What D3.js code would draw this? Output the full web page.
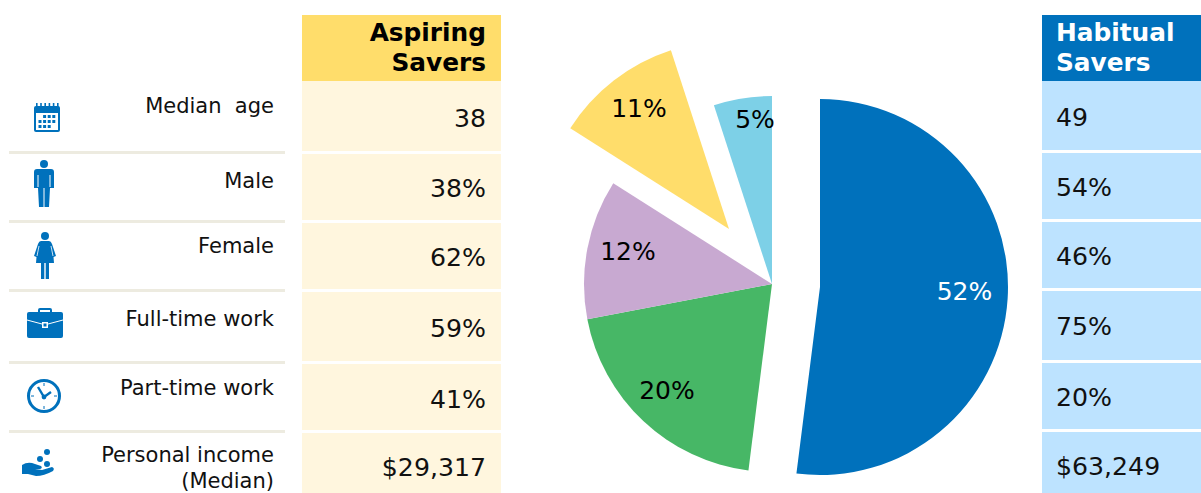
<!DOCTYPE html>
<html><head>
<meta charset="utf-8">
<title>Savers</title>
<script src="https://d3js.org/d3.v7.min.js"></script>
<style>
  html, body { margin: 0; padding: 0; background: #fff; overflow: hidden; }
  svg { display: block; }
  text { font-family: "DejaVu Sans", Verdana, sans-serif; white-space: pre; }
</style>
</head>
<body>
<svg id="chart" width="1201" height="493"></svg>
<script>
// Data
const rowLabels = ["Median  age", "Male", "Female", "Full-time work", "Part-time work", "Personal income\n(Median)"];
const aspiringValues = ["38", "38%", "62%", "59%", "41%", "$29,317"];
const habitualValues = ["49", "54%", "46%", "75%", "20%", "$63,249"];
const aspiringTitle = ["Aspiring", "Savers"];
const habitualTitle = ["Habitual", "Savers"];
const pieValues = [52, 20, 12, 11, 5];
const pieColors = ["#0071bc", "#47b766", "#c8a9d1", "#ffdd6b", "#7dd0e7"];

const svg = d3.select("svg#chart");
const ink = "#111";

// The rows are not quite even in the original, so they go through ordinal scales
const rowY = (values) => d3.scaleOrdinal().domain(rowLabels).range(values);

// Left labels
const labelArea = svg.append("g").attr("id", "labels");
const ruleY = rowY([null, 151, 220, 289, 361, 430]);
const labelY = rowY([113, 188, 253, 326, 395, 462]);
rowLabels.forEach((label, i) => {
  if (i > 0) {
    labelArea.append("rect")
      .attr("x", 9).attr("width", 276)
      .attr("y", ruleY(label)).attr("height", 3)
      .attr("fill", "#edebe0");
  }
  label.split("\n").forEach((line, j) => {
    labelArea.append("text")
      .attr("x", 274)
      .attr("y", labelY(label) + j * 25.5)
      .attr("text-anchor", "end")
      .attr("font-size", 21)
      .attr("fill", ink)
      .text(line);
  });
});

// Value columns
function drawColumn(c) {
  const g = svg.append("g");
  g.append("rect").attr("x", c.x).attr("y", 15).attr("width", c.width).attr("height", 66).attr("fill", c.head);
  c.title.forEach((t, i) => {
    g.append("text")
      .attr("x", c.textX).attr("y", 41 + i * 30)
      .attr("text-anchor", c.anchor)
      .attr("font-size", 24.8).attr("font-weight", "bold")
      .attr("fill", c.titleColor)
      .text(t);
  });
  const top = rowY(c.tops), bottom = rowY(c.bottoms), base = rowY(c.bases);
  rowLabels.forEach((label, i) => {
    g.append("rect")
      .attr("x", c.x).attr("y", top(label))
      .attr("width", c.width).attr("height", bottom(label) - top(label))
      .attr("fill", c.cell);
    g.append("text")
      .attr("x", c.textX).attr("y", base(label))
      .attr("text-anchor", c.anchor)
      .attr("font-size", 25.2)
      .attr("fill", ink)
      .text(c.values[i]);
  });
}
drawColumn({
  x: 302, width: 199, textX: 486, anchor: "end",
  title: aspiringTitle, values: aspiringValues,
  head: "#ffdd6b", cell: "#fff6de", titleColor: "#000",
  tops: [81, 154, 223, 292, 364, 433],
  bottoms: [151, 220, 289, 361, 430, 493],
  bases: [127, 197, 266, 337, 408, 476]
});
drawColumn({
  x: 1042, width: 159, textX: 1056, anchor: "start",
  title: habitualTitle, values: habitualValues,
  head: "#0071bc", cell: "#bde3ff", titleColor: "#fff",
  tops: [81, 153, 222, 291, 363, 432],
  bottoms: [150, 219, 288, 360, 429, 493],
  bases: [126, 196, 265, 335, 406, 475]
});

// Pie, drawn clockwise from 12 o'clock. Some slices are pulled out of the centre.
const pieCenter = [772, 284];
const pullOut = [[48, 3], [0, 0], [0, 0], [-43, -55], [0, 0]];
const labelPos = [[964.5, 300], [667, 399], [628, 260], [639, 117], [755, 128]];
const labelInk = ["#fff", "#000", "#000", "#000", "#000"];

const pie = d3.pie().sort(null)(pieValues);
const arc = d3.arc().innerRadius(0).outerRadius(188);

const pieArea = svg.append("g").attr("id", "pie");
pie.forEach((d, i) => {
  pieArea.append("path")
    .attr("transform", "translate(" + (pieCenter[0] + pullOut[i][0]) + "," + (pieCenter[1] + pullOut[i][1]) + ")")
    .attr("d", arc(d))
    .attr("fill", pieColors[i]);
});
pie.forEach((d, i) => {
  pieArea.append("text")
    .attr("x", labelPos[i][0]).attr("y", labelPos[i][1])
    .attr("text-anchor", "middle")
    .attr("font-size", 25)
    .attr("fill", labelInk[i])
    .text(d.value + "%");
});

// Icons
const iconBlue = "#0071bc";
const icons = svg.append("g").attr("fill", iconBlue);

// calendar
const cal = icons.append("g").attr("transform", "translate(34,103)");
cal.append("rect").attr("y", 3).attr("width", 26).attr("height", 26).attr("rx", 2);
cal.append("rect").attr("x", 2).attr("y", 10).attr("width", 22).attr("height", 17).attr("fill", "#fff");
d3.range(6).forEach(i => cal.append("rect").attr("x", 2 + i * 4.2).attr("y", 0).attr("width", 1.6).attr("height", 6));
d3.range(3).forEach(r => d3.range(4).forEach(c => {
  if (r === 0 && c === 0) return;
  if (r === 2 && c === 3) return;
  cal.append("rect").attr("x", 4.5 + c * 4.6).attr("y", 12 + r * 5).attr("width", 3).attr("height", 3);
}));

// male
const male = icons.append("g").attr("transform", "translate(44,160)");
male.append("circle").attr("cy", 4).attr("r", 4);
male.append("path").attr("d", "M-10,12 Q-10,9 -7,9 L7,9 Q10,9 10,12 L10,28 L6,28 L5,47 L-5,47 L-6,28 L-10,28 Z");
male.append("path").attr("d", "M-6,15 V27 M6,15 V27 M0,28 V47")
  .attr("stroke", "#fff").attr("stroke-width", 1).attr("fill", "none");

// female
const female = icons.append("g").attr("transform", "translate(45,232)");
female.append("circle").attr("cy", 4).attr("r", 4);
female.append("path").attr("d", "M-4,9 L4,9 Q6,9 7,12 L11,24 L8.5,25 L9,31 L4,31 L4,47 L0.7,47 L0.7,31 L-0.7,31 L-0.7,47 L-4,47 L-4,31 L-9,31 L-8.5,25 L-11,24 L-7,12 Q-6,9 -4,9 Z");
female.append("path").attr("d", "M-6,14 L-8,24 M6,14 L8,24")
  .attr("stroke", "#fff").attr("stroke-width", 0.8).attr("fill", "none");

// briefcase
const brief = icons.append("g").attr("transform", "translate(27,308)");
brief.append("path").attr("d", "M11,5 L11,2 Q11,0 13,0 L23,0 Q25,0 25,2 L25,5 L23,5 L23,2 L13,2 L13,5 Z");
brief.append("rect").attr("y", 4).attr("width", 36).attr("height", 26).attr("rx", 2);
brief.append("path").attr("d", "M0,12 L15,16 M21,16 L36,12").attr("stroke", "#fff").attr("stroke-width", 1).attr("fill", "none");
brief.append("rect").attr("x", 15).attr("y", 14).attr("width", 6).attr("height", 6).attr("fill", "#fff");
brief.append("rect").attr("x", 16.5).attr("y", 15.5).attr("width", 3).attr("height", 3);

// clock
const clock = icons.append("g").attr("transform", "translate(44,396)");
clock.append("circle").attr("r", 15.5).attr("fill", "#fff").attr("stroke", iconBlue).attr("stroke-width", 3);
clock.append("path").attr("d", "M-6,-9 L0,1 L7,-4").attr("fill", "none").attr("stroke", iconBlue).attr("stroke-width", 2.4);
clock.append("circle").attr("cy", 1).attr("r", 2.4);
clock.append("path").attr("d", "M0,-13 V-10 M0,10 V13 M-13,0 H-10 M10,0 H13").attr("stroke", iconBlue).attr("stroke-width", 1);

// hand with coins
const hand = icons.append("g").attr("transform", "translate(22,449)");
hand.append("path").attr("d", "M0,16 Q6,12 13,15 L19,17 Q21,19 18,20 L13,20 L20,21 L30,18 Q33,19 31,22 Q22,27 14,27 L6,25 L0,25 Z");
hand.append("circle").attr("cx", 25).attr("cy", 3).attr("r", 3);
hand.append("circle").attr("cx", 18).attr("cy", 10).attr("r", 3);
hand.append("circle").attr("cx", 25).attr("cy", 15).attr("r", 3);
</script>
</body>
</html>
